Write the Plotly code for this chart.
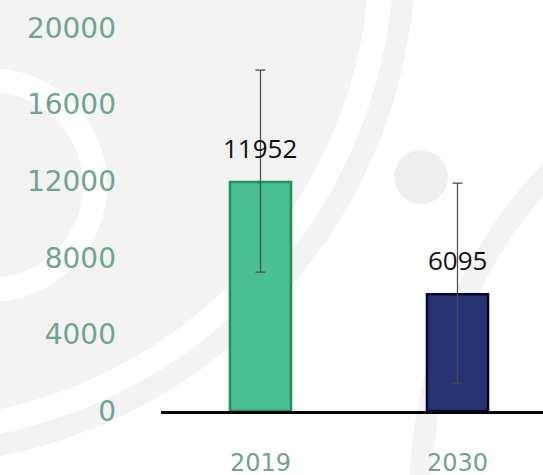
import plotly.graph_objects as go

categories = ["2019", "2030"]
values = [11952, 6095]
err_upper = [17800, 11900]
err_lower = [7250, 1450]
bar_colors = ["#4abf93", "#263373"]
bar_edges = ["#23915f", "#05082a"]
y_ticks = [0, 4000, 8000, 12000, 16000, 20000]

W, H = 543, 475
L, R, T, B = 161, 0, 28, 64
pw, ph = W - L - R, H - T - B


def px(x):
    return (x - L) / pw


def py(y):
    return (H - B - y) / ph


def circ(cx, cy, r, fill, line_color, lw):
    return dict(type="circle", xref="paper", yref="paper", layer="below",
                x0=px(cx - r), x1=px(cx + r), y0=py(cy + r), y1=py(cy - r),
                line=dict(color=line_color, width=lw), fillcolor=fill)


err_plus = [u - v for u, v in zip(err_upper, values)]
err_minus = [v - l for v, l in zip(values, err_lower)]

fig = go.Figure()
fig.add_trace(go.Bar(
    x=categories, y=values, width=0.31,
    marker=dict(color=bar_colors, line=dict(color=bar_edges, width=2.5)),
    error_y=dict(type="data", symmetric=False, array=err_plus, arrayminus=err_minus,
                 color="#4a4a4a", thickness=1.2, width=5),
    hoverinfo="skip",
))

for i, v in enumerate(values):
    fig.add_annotation(x=i, y=v, xref="x", yref="y", text=str(v), showarrow=False,
                       yanchor="middle", yshift=34,
                       font=dict(family="Open Sans", size=26, color="#111111"))

wm = "#f3f3f3"
clear = "rgba(0,0,0,0)"
shapes = [
    circ(-100, -50, 470, wm, wm, 0),
    circ(-100, -50, 505, clear, wm, 22),
    circ(-10, 185, 105, clear, "white", 24),
    circ(421, 177, 27, "#efefef", "#efefef", 0),
    circ(900, 500, 480, clear, wm, 22),
]

fig.update_layout(
    width=W, height=H,
    margin=dict(l=L, r=R, t=T, b=B, autoexpand=False),
    paper_bgcolor="white", plot_bgcolor="rgba(0,0,0,0)",
    showlegend=False,
    shapes=shapes,
    xaxis=dict(type="category", range=[-0.505, 1.434], showgrid=False, zeroline=False,
               showline=True, linecolor="black", linewidth=3, automargin=False,
               ticks="", ticklabelstandoff=28,
               tickfont=dict(family="DejaVu Sans", size=24, color="#6fa58d")),
    yaxis=dict(range=[0, 20000], tickvals=y_ticks, tickformat="d", automargin=False,
               showgrid=False, zeroline=False,
               showline=False, ticks="", ticklabelstandoff=44,
               tickfont=dict(family="DejaVu Sans", size=28, color="#6fa58d")),
)

fig.write_html("out.html", config={"displayModeBar": False},
               post_script="document.body.style.margin='0';document.body.style.overflow='hidden';")
